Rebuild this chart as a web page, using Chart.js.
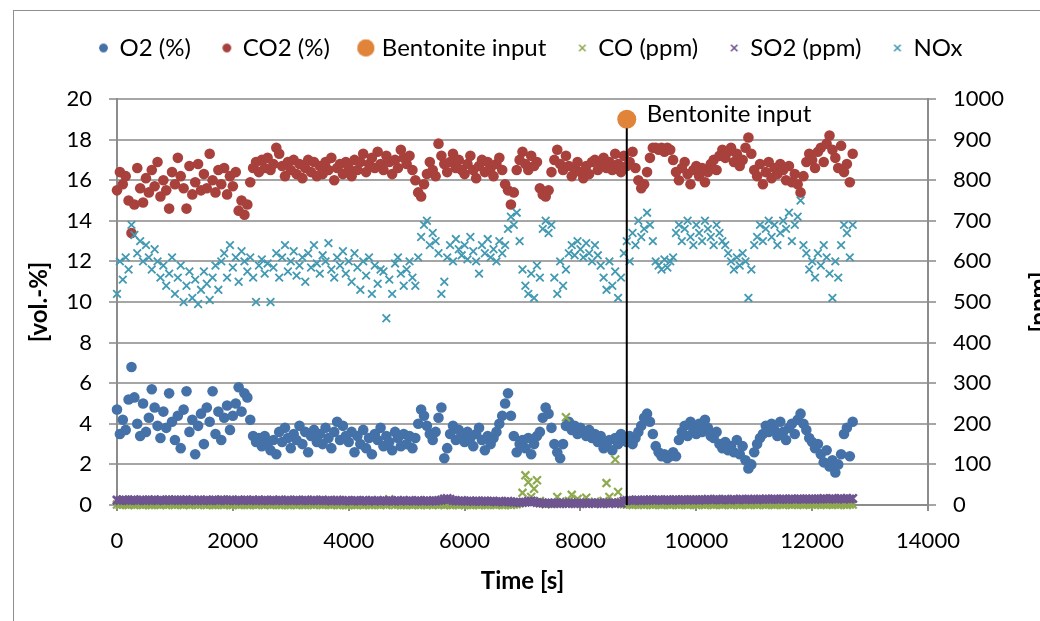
<!DOCTYPE html>
<html>
<head>
<meta charset="utf-8">
<script src="https://cdn.jsdelivr.net/npm/chart.js@4.4.0/dist/chart.umd.min.js"></script>
<style>
  html, body { margin: 0; padding: 0; background: #fff; overflow: hidden; }
  #frame { position: absolute; left: 13px; top: 10px; width: 1200px; height: 800px;
           border-left: 1px solid #8e8e8e; border-top: 1px solid #8e8e8e; }
  #wrap { position: absolute; left: 0; top: 0; width: 1062px; height: 621px; }
</style>
</head>
<body>
<div id="frame"></div>
<div id="wrap"><canvas id="chart"></canvas></div>
<script>
// measurement interval of the logger, seconds
const SAMPLE_STEP_S = 50;

// O2 (%), one value per sample
const o2 = [
  4.7, 3.5, 4.2, 3.7, 5.2, 6.8, 5.3, 4.0, 3.4, 5.0,
  3.6, 4.3, 5.7, 4.8, 3.9, 3.3, 4.6, 3.8, 5.5, 4.1,
  3.2, 4.4, 2.8, 4.7, 5.6, 3.6, 4.2, 2.5, 3.9, 4.5,
  3.0, 4.8, 4.1, 5.6, 3.5, 4.6, 3.2, 4.3, 4.9, 3.7,
  4.4, 5.0, 5.8, 4.6, 5.5, 5.3, 4.2, 3.4, 3.1, 3.3,
  2.9, 3.4, 3.0, 2.7, 3.2, 2.5, 3.6, 3.1, 3.8, 3.3,
  2.8, 3.5, 3.2, 3.9, 3.0, 3.6, 2.6, 3.4, 3.7, 3.1,
  3.5, 3.0, 3.8, 3.3, 2.8, 3.6, 4.1, 3.2, 3.9, 3.4,
  3.1, 3.6, 2.6, 3.4, 3.0, 3.7, 2.8, 3.3, 2.5, 3.5,
  3.2, 3.8, 2.9, 3.4, 3.1, 2.7, 3.6, 3.3, 2.9, 3.5,
  3.0, 3.4, 2.8, 3.3, 4.0, 4.7, 4.4, 3.9, 3.5, 3.2,
  3.6, 4.3, 4.8, 2.3, 2.8, 3.5, 3.9, 3.2, 3.7, 3.4,
  3.1, 3.6, 3.3, 2.9, 3.5, 3.8, 3.2, 2.7, 3.4, 3.0,
  3.3, 3.6, 4.0, 4.4, 5.0, 5.5, 4.4, 3.4, 2.6, 3.0,
  3.2, 2.8, 3.3, 2.5, 3.0, 3.4, 3.6, 4.3, 4.8, 4.5,
  3.8, 3.0, 2.6, 2.3, 3.0, 3.9, 4.1, 3.7, 3.9, 3.5,
  3.8, 3.6, 3.4, 3.7, 3.3, 3.5, 3.1, 3.4, 2.8, 3.0,
  3.2, 2.7, 3.3, 3.0, 3.5, 3.3, 3.1, 3.4, 3.0, 3.3,
  3.6, 3.9, 4.3, 4.5, 4.1, 3.5, 2.9, 2.6, 2.4, 2.5,
  2.3, 2.4, 2.6, 2.4, 3.2, 3.6, 3.9, 3.4, 4.1, 3.7,
  3.5, 4.0, 3.6, 4.2, 3.8, 3.4, 3.3, 3.6, 3.0, 2.8,
  3.1, 2.7, 2.9, 2.6, 3.2, 2.5, 2.9, 2.2, 1.8, 2.0,
  2.6, 3.0, 3.3, 3.5, 3.9, 3.6, 4.0, 3.7, 3.4, 4.1,
  3.6, 3.2, 3.8, 4.0, 3.5, 4.2, 4.5, 4.0, 3.7, 3.3,
  3.1, 2.8, 3.0, 2.5, 2.1, 2.7, 1.9, 2.2, 1.6, 2.0,
  2.5, 3.5, 3.8, 2.4, 4.1
];

// CO2 (%)
const co2 = [
  15.5, 16.4, 15.8, 16.2, 15.0, 13.4, 14.8, 16.6, 15.6, 14.9,
  16.1, 15.4, 16.5, 15.7, 16.9, 15.2, 16.0, 15.5, 14.6, 16.4,
  15.8, 17.1, 16.2, 15.6, 14.6, 16.7, 15.3, 15.9, 16.8, 15.5,
  16.3, 15.6, 17.3, 16.0, 15.4, 16.5, 15.8, 16.6, 15.3, 16.2,
  15.7, 16.4, 14.5, 15.0, 14.3, 14.8, 15.9, 16.6, 16.9, 16.4,
  17.0, 16.6, 17.1, 16.5, 16.8, 17.6, 17.3, 16.7, 16.2, 16.9,
  16.5, 17.0, 16.3, 16.8, 16.1, 16.6, 17.0, 16.4, 16.9, 16.2,
  16.7, 16.3, 16.9, 16.5, 17.1, 16.0, 16.6, 16.8, 16.3, 16.9,
  16.6, 16.2, 17.0, 16.5, 16.9, 17.3, 16.4, 16.8, 17.1, 16.6,
  17.4, 16.8, 16.5, 17.2, 16.9, 16.3, 17.0, 16.6, 17.5, 17.1,
  16.8, 17.2, 16.5, 16.0, 15.4, 15.2, 15.8, 16.3, 16.9, 16.5,
  16.2, 17.8, 17.2, 16.8, 16.4, 16.9, 17.3, 16.6, 17.0, 16.5,
  16.3, 16.8, 17.2, 16.5, 16.1, 16.7, 17.0, 16.4, 16.9, 16.6,
  16.2, 16.8, 17.1, 16.5, 15.8, 15.5, 14.8, 15.4, 16.5, 17.0,
  17.4, 16.8, 16.5, 17.2, 16.7, 16.9, 15.6, 15.3, 15.2, 15.5,
  16.4, 17.0, 17.5, 16.8, 16.5, 17.2, 16.7, 16.2, 16.6, 16.9,
  16.4, 16.1, 16.7, 16.3, 16.9, 17.0, 16.5, 16.8, 17.1, 16.6,
  16.9, 16.5, 17.3, 16.8, 16.4, 17.2, 16.7, 16.9, 17.4, 16.6,
  16.0, 15.6, 15.8, 16.4, 17.1, 17.6, 17.6, 17.5, 17.6, 17.4,
  17.6, 17.5, 17.0, 16.4, 16.0, 16.6, 16.9, 16.3, 15.8, 16.5,
  16.7, 16.2, 16.6, 15.9, 16.4, 16.8, 17.0, 16.5, 17.2, 17.5,
  17.1, 17.4, 17.6, 16.9, 17.3, 16.7, 17.0, 17.6, 18.1, 17.3,
  16.5, 16.2, 16.8, 15.8, 16.4, 16.9, 16.1, 16.6, 16.3, 16.8,
  16.5, 16.0, 16.7, 15.9, 16.3, 15.8, 15.4, 16.2, 16.9, 17.3,
  17.0, 16.6, 17.4, 17.6, 16.9, 17.8, 18.2, 17.5, 17.1, 16.6,
  17.7, 16.4, 16.8, 15.9, 17.3
];

// CO (ppm)
const co = [
  1, 0, 1, 1, 0, 1, 0, 1, 1, 0,
  1, 0, 0, 1, 1, 0, 1, 0, 1, 1,
  0, 1, 1, 0, 1, 0, 1, 1, 0, 1,
  1, 0, 1, 0, 0, 1, 1, 0, 1, 0,
  0, 1, 0, 1, 1, 0, 0, 1, 0, 1,
  1, 0, 1, 0, 1, 1, 0, 0, 1, 0,
  0, 1, 0, 1, 0, 0, 1, 1, 0, 1,
  1, 0, 1, 1, 0, 1, 0, 0, 1, 0,
  0, 1, 0, 0, 1, 0, 1, 0, 0, 1,
  1, 0, 1, 0, 14, 1, 0, 1, 0, 0,
  0, 1, 0, 1, 0, 0, 1, 0, 1, 0,
  1, 0, 1, 0, 1, 0, 0, 1, 0, 1,
  0, 1, 0, 0, 1, 0, 1, 0, 0, 1,
  1, 0, 1, 0, 0, 1, 0, 1, 2, 4,
  30, 73, 56, 20, 40, 61, 10, 4, 2, 3,
  5, 3, 20, 8, 6, 216, 10, 25, 6, 15,
  8, 4, 18, 6, 4, 8, 5, 3, 10, 54,
  20, 6, 112, 32, 8, 2, 1, 1, 0, 1,
  1, 1, 0, 1, 1, 0, 1, 1, 0, 1,
  1, 0, 1, 1, 0, 1, 1, 0, 1, 1,
  0, 1, 1, 0, 1, 1, 0, 1, 1, 0,
  1, 1, 0, 1, 1, 0, 1, 1, 0, 1,
  1, 0, 1, 1, 0, 1, 1, 0, 1, 1,
  0, 1, 1, 0, 1, 1, 1, 0, 1, 1,
  1, 0, 1, 1, 1, 0, 1, 1, 1, 0,
  1, 1, 0, 1, 1
];

// SO2 (ppm)
const so2 = [
  12, 11, 13, 12, 11, 12, 13, 11, 12, 12,
  11, 12, 12, 13, 11, 12, 11, 12, 13, 12,
  12, 11, 12, 12, 13, 11, 12, 11, 12, 12,
  11, 12, 11, 12, 12, 11, 13, 12, 11, 12,
  12, 11, 12, 11, 12, 12, 11, 12, 11, 12,
  11, 12, 11, 11, 12, 11, 12, 11, 11, 12,
  11, 11, 12, 11, 11, 12, 11, 11, 12, 11,
  11, 12, 11, 11, 10, 11, 12, 11, 10, 11,
  11, 10, 11, 11, 10, 11, 11, 10, 11, 10,
  11, 10, 11, 10, 11, 10, 10, 11, 10, 11,
  10, 11, 10, 10, 11, 10, 10, 11, 10, 10,
  10, 11, 12, 15, 16, 14, 11, 10, 10, 11,
  10, 9, 10, 9, 10, 9, 9, 10, 9, 9,
  9, 8, 9, 8, 8, 9, 8, 7, 7, 6,
  6, 7, 9, 10, 8, 6, 5, 5, 4, 5,
  4, 5, 4, 4, 5, 4, 4, 5, 4, 4,
  4, 5, 4, 4, 5, 4, 5, 4, 4, 5,
  4, 5, 4, 5, 4, 10, 11, 12, 11, 12,
  12, 11, 12, 12, 13, 12, 12, 13, 12, 12,
  13, 12, 12, 13, 12, 13, 13, 12, 13, 13,
  13, 12, 13, 13, 14, 13, 13, 14, 13, 13,
  14, 13, 13, 14, 13, 14, 14, 13, 14, 14,
  14, 13, 14, 14, 15, 14, 14, 15, 14, 14,
  15, 14, 14, 15, 14, 15, 15, 14, 15, 15,
  15, 14, 15, 15, 16, 15, 15, 16, 15, 15,
  16, 15, 16, 15, 16
];

// NOx (ppm)
const nox = [
  520, 600, 555, 610, 580, 690, 665, 620, 650, 600,
  640, 610, 580, 630, 600, 560, 590, 540, 570, 610,
  520, 560, 590, 500, 540, 575, 510, 555, 495, 530,
  575, 545, 505, 560, 590, 530, 600, 620, 560, 640,
  585, 610, 550, 625, 600, 575, 610, 560, 500, 590,
  605, 570, 595, 500, 585, 620, 560, 610, 640, 575,
  600, 625, 565, 590, 610, 550, 620, 585, 640, 595,
  570, 615, 600, 645, 580, 560, 610, 590, 625, 570,
  600, 550, 620, 585, 530, 600, 565, 610, 520, 590,
  545, 580, 575, 460, 555, 520, 595, 610, 570, 540,
  580, 600, 560, 540, 610, 660, 690, 700, 640, 670,
  650, 620, 520, 550, 610, 640, 600, 655, 630, 615,
  640, 605, 660, 625, 600, 570, 640, 620, 655, 610,
  630, 600, 650, 620, 640, 680, 710, 690, 720, 650,
  580, 540, 520, 570, 510, 590, 560, 680, 700, 670,
  690, 560, 520, 600, 540, 580, 620, 640, 615, 650,
  630, 610, 645, 620, 600, 640, 615, 590, 560, 530,
  600, 540, 575, 510, 560, 620, 650, 600, 670, 640,
  700, 660, 680, 720, 690, 650, 600, 590, 580, 605,
  585, 600, 610, 670, 690, 650, 680, 700, 660, 640,
  690, 670, 650, 700, 680, 660, 640, 690, 670, 650,
  640, 620, 600, 580, 610, 590, 620, 600, 510, 580,
  640, 660, 690, 650, 680, 700, 660, 690, 640, 670,
  700, 680, 720, 650, 690, 710, 750, 640, 620, 580,
  600, 560, 620, 590, 640, 610, 570, 510, 600, 560,
  640, 690, 670, 610, 690
];

// bentonite dosing event
const bentoniteTime = [8800];
const bentoniteLevel = [19];

const timeS = o2.map((_, i) => i * SAMPLE_STEP_S);
const pts = vals => vals.map((v, i) => ({ x: timeS[i], y: v }));

const FONT = 'Lato, "Open Sans", sans-serif';
Chart.defaults.font.family = FONT;
Chart.defaults.font.size = 22;
Chart.defaults.color = '#000';

const COL = {
  o2: '#4472A8', co2: '#A8403C', bent: '#E0843A',
  co: '#8DAA4E', so2: '#6E5490', nox: '#4299B2'
};

// small canvases used as legend glyphs (sizes differ per series like the original)
function glyph(style, color, r) {
  const c = document.createElement('canvas');
  const s = Math.ceil(r * 2 + 4);
  c.width = c.height = s;
  const g = c.getContext('2d');
  g.fillStyle = color;
  g.strokeStyle = color;
  g.lineWidth = 1.6;
  Chart.helpers.drawPoint(g, { pointStyle: style, radius: r, rotation: 0, borderWidth: style === 'circle' ? 0 : 1.6 }, s / 2, s / 2);
  if (style === 'circle') g.fill();
  return c;
}

const circleSet = (label, data, color, order) => ({
  label, data, yAxisID: 'y', order, clip: false,
  pointStyle: 'circle', pointRadius: 5.3, borderWidth: 0,
  backgroundColor: color, borderColor: color,
  legendGlyph: glyph('circle', color, 4.2)
});
const crossSet = (label, data, color, order, r, w) => ({
  label, data, yAxisID: 'y1', order, clip: false,
  pointStyle: 'crossRot', pointRadius: r, borderWidth: w,
  backgroundColor: color, borderColor: color,
  legendGlyph: glyph('crossRot', color, 4.6)
});

const datasets = [
  circleSet('O2 (%)', pts(o2), COL.o2, 6),
  circleSet('CO2 (%)', pts(co2), COL.co2, 5),
  {
    label: 'Bentonite input', yAxisID: 'y', order: 0, clip: false,
    data: bentoniteTime.map((t, i) => ({ x: t, y: bentoniteLevel[i] })),
    pointStyle: 'circle', pointRadius: 9.5, borderWidth: 0,
    backgroundColor: COL.bent, borderColor: COL.bent,
    legendGlyph: glyph('circle', COL.bent, 8.5)
  },
  crossSet('CO (ppm)', pts(co), COL.co, 4, 5.6, 2.2),
  crossSet('SO2 (ppm)', pts(so2), COL.so2, 3, 5.8, 2.6),
  crossSet('NOx', pts(nox), COL.nox, 2, 5.4, 1.8)
];

const legendGap = {
  id: 'legendGap',
  beforeInit(chart) {
    const fit = chart.legend.fit;
    chart.legend.fit = function () { fit.call(this); this.height += 29; };
  }
};

const bentoniteMarker = {
  id: 'bentoniteMarker',
  afterDatasetsDraw(chart) {
    const idx = chart.data.datasets.findIndex(d => d.label === 'Bentonite input');
    const pt = chart.getDatasetMeta(idx).data[0];
    const y0 = chart.scales.y.getPixelForValue(0);
    const ctx = chart.ctx;
    ctx.save();
    ctx.strokeStyle = '#000';
    ctx.lineWidth = 2;
    ctx.beginPath();
    ctx.moveTo(pt.x, pt.y + 9);
    ctx.lineTo(pt.x, y0);
    ctx.stroke();
    ctx.fillStyle = '#000';
    ctx.font = '24px ' + FONT;
    ctx.textBaseline = 'middle';
    ctx.fillText('Bentonite input', pt.x + 20, pt.y - 5);
    ctx.restore();
  }
};

// Excel writes the secondary title rotated the same way as the primary one
const ppmTitle = {
  id: 'ppmTitle',
  afterDraw(chart) {
    const s = chart.scales.y1;
    const ctx = chart.ctx;
    ctx.save();
    ctx.translate(s.left + 111, (s.top + s.bottom) / 2);
    ctx.rotate(-Math.PI / 2);
    ctx.font = 'bold 24px ' + FONT;
    ctx.fillStyle = '#000';
    ctx.textAlign = 'center';
    ctx.textBaseline = 'middle';
    ctx.fillText('[ppm]', 0, 0);
    ctx.restore();
  }
};

const plain = v => String(v);

new Chart(document.getElementById('chart'), {
  type: 'scatter',
  data: { datasets },
  plugins: [legendGap, bentoniteMarker, ppmTitle],
  options: {
    responsive: true,
    maintainAspectRatio: false,
    animation: false,
    events: [],
    layout: { padding: { top: 4, left: 0, right: 0, bottom: 0 } },
    plugins: {
      tooltip: { enabled: false },
      legend: {
        position: 'top',
        labels: {
          usePointStyle: true,
          boxWidth: 8,
          boxHeight: 8,
          padding: 32,
          font: { size: 24 },
          generateLabels: chart => chart.data.datasets.map((ds, i) => ({
            text: ds.label,
            datasetIndex: i,
            pointStyle: ds.legendGlyph,
            fillStyle: ds.backgroundColor,
            strokeStyle: ds.borderColor,
            lineWidth: 0,
            fontColor: '#000',
            hidden: !chart.isDatasetVisible(i)
          }))
        }
      }
    },
    scales: {
      x: {
        type: 'linear', min: 0, max: 14000,
        afterFit: s => { s.height = 116; },
        ticks: { stepSize: 2000, padding: 17, maxRotation: 0, callback: plain },
        grid: { drawOnChartArea: false, drawTicks: true, tickLength: 6, color: '#8c8c8c', lineWidth: 2 },
        border: { color: '#8c8c8c', width: 2 },
        title: { display: true, text: 'Time [s]', font: { size: 24, weight: 'bold' }, padding: { top: 0, bottom: 25 } }
      },
      y: {
        position: 'left', min: 0, max: 20,
        afterFit: s => { s.width = 117; },
        ticks: { stepSize: 2, padding: 17, callback: plain },
        grid: { color: '#a6a6a6', lineWidth: 2, tickLength: 8 },
        border: { color: '#8c8c8c', width: 2 },
        title: { display: true, text: '[vol.-%]', font: { size: 24, weight: 'bold' }, padding: { top: 25, bottom: 0 } }
      },
      y1: {
        position: 'right', min: 0, max: 1000,
        afterFit: s => { s.width = 134; },
        ticks: { stepSize: 100, padding: 17, callback: plain },
        grid: { drawOnChartArea: false, tickLength: 8, color: '#a6a6a6', lineWidth: 2 },
        border: { color: '#8c8c8c', width: 2 }
      }
    }
  }
});
</script>
</body>
</html>
